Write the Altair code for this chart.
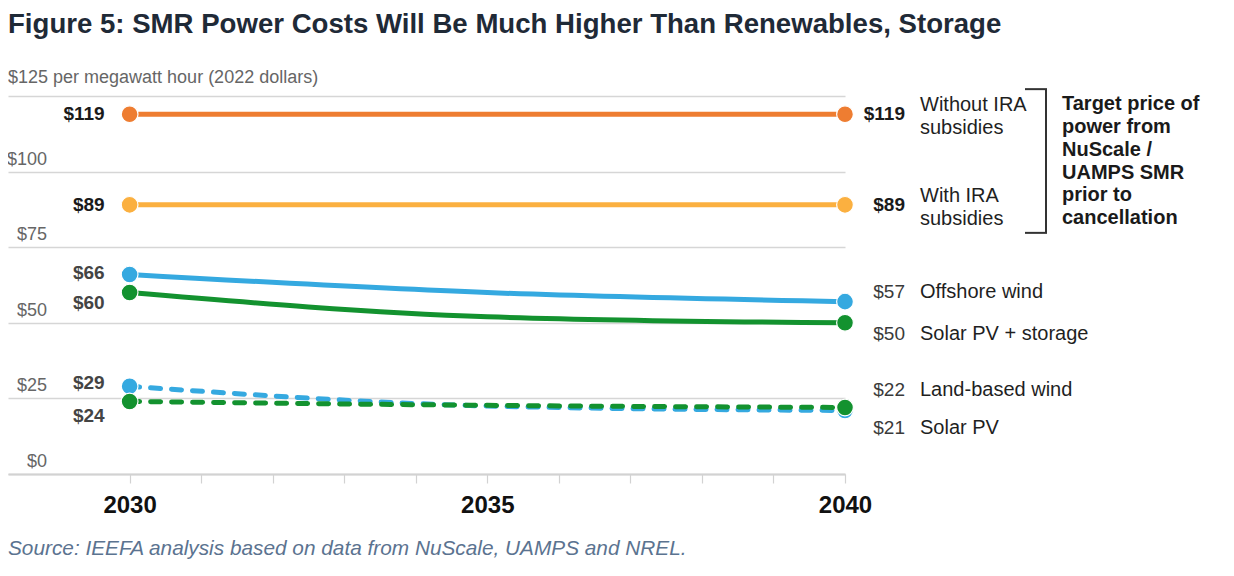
import json
import altair as alt
import pandas as pd

# ---------------- data ----------------
title_text = "Figure 5: SMR Power Costs Will Be Much Higher Than Renewables, Storage"
source_text = "Source: IEEFA analysis based on data from NuScale, UAMPS and NREL."
bracket_text = "Target price of\npower from\nNuScale /\nUAMPS SMR\nprior to\ncancellation"

years = [2030, 2035, 2040]
series_keys = ["without_ira", "with_ira", "offshore_wind", "solar_pv_storage", "solar_pv", "land_wind"]
series_names = ["Without IRA\nsubsidies", "With IRA\nsubsidies", "Offshore wind",
                "Solar PV + storage", "Solar PV", "Land-based wind"]
without_ira = [119, 119, 119]
with_ira = [89, 89, 89]
offshore_wind = [66, 60, 57]
solar_pv_storage = [60, 52, 50]
solar_pv = [29, 22.5, 21]
land_wind = [24, 22.7, 22]
series_values = [without_ira, with_ira, offshore_wind, solar_pv_storage, solar_pv, land_wind]

left_value_labels = ["$119", "$89", "$66", "$60", "$29", "$24"]
right_value_labels = ["$119", "$89", "$57", "$50", "$21", "$22"]

y_tick_values = [0, 25, 50, 75, 100, 125]
y_tick_labels = ["$0", "$25", "$50", "$75", "$100", "$125 per megawatt hour (2022 dollars)"]
x_tick_values = list(range(2030, 2041))
x_labelled_years = [2030, 2035, 2040]

bracket_year = 2040
bracket_top_value = 119
bracket_bottom_value = 89

# ---------------- style ----------------
FONT = "Liberation Sans"
styles = {
    "without_ira": dict(color="#EE7D31", dash=None, ldy=0, rdy=0, ndy=-9, lcolor="#1a1a1a", rcolor="#1a1a1a"),
    "with_ira": dict(color="#FBB040", dash=None, ldy=0, rdy=0, ndy=-9, lcolor="#1a1a1a", rcolor="#1a1a1a"),
    "offshore_wind": dict(color="#35A9E0", dash=None, ldy=-1, rdy=-10, ndy=-10, lcolor="#444444", rcolor="#3a3a3a"),
    "solar_pv_storage": dict(color="#13922F", dash=None, ldy=10, rdy=11, ndy=11, lcolor="#444444", rcolor="#3a3a3a"),
    "solar_pv": dict(color="#35A9E0", dash=[10, 11], ldy=-3, rdy=18, ndy=18, lcolor="#444444", rcolor="#3a3a3a"),
    "land_wind": dict(color="#13922F", dash=[10, 11], ldy=15, rdy=-17, ndy=-17, lcolor="#444444", rcolor="#3a3a3a"),
}

X_SCALE = alt.Scale(domain=[2028.3, 2040], nice=False, zero=False)
Y_SCALE = alt.Scale(domain=[0, 125], nice=False, zero=True)

label_expr = "indexof(" + json.dumps([str(y) for y in x_labelled_years]) + ", datum.label) >= 0 ? datum.label : ''"
x_axis = alt.Axis(values=x_tick_values, format="d", labelExpr=label_expr, grid=False,
                  domainColor="#d2d2d2", domainWidth=2, tickColor="#d2d2d2", tickWidth=1.2,
                  tickSize=9, labelFont=FONT, labelFontSize=24, labelFontWeight="bold",
                  labelColor="#111111", labelPadding=10, labelFlush=False, labelOverlap=False,
                  title=None)
y_axis = alt.Axis(values=y_tick_values, labels=False, ticks=False, domain=False, grid=True,
                  gridColor="#d6d6d6", gridWidth=1.5, title=None)


def X(field="year"):
    return alt.X(f"{field}:Q", scale=X_SCALE, axis=x_axis)


def Y(field="value"):
    return alt.Y(f"{field}:Q", scale=Y_SCALE, axis=y_axis)


layers = []

# y tick labels (drawn as text at the gridlines)
ytl = pd.DataFrame({"value": y_tick_values[:-1], "t": y_tick_labels[:-1]})
layers.append(alt.Chart(ytl).mark_text(align="right", baseline="middle", dy=-12, font=FONT,
                                       fontSize=18, color="#666666")
              .encode(x=alt.value(39), y=Y(), text="t:N"))
ytop = pd.DataFrame({"value": y_tick_values[-1:], "t": y_tick_labels[-1:]})
layers.append(alt.Chart(ytop).mark_text(align="left", baseline="middle", dy=-18, font=FONT,
                                        fontSize=18, color="#666666")
              .encode(x=alt.value(0), y=Y(), text="t:N"))

# lines
for key, vals in zip(series_keys, series_values):
    st = styles[key]
    df = pd.DataFrame({"year": years, "value": vals})
    kw = dict(color=st["color"], strokeWidth=5, strokeCap="round", interpolate="monotone")
    if st["dash"]:
        kw["strokeDash"] = st["dash"]
    layers.append(alt.Chart(df).mark_line(**kw).encode(x=X(), y=Y()))

# end dots
for key, vals in zip(series_keys, series_values):
    st = styles[key]
    df = pd.DataFrame({"year": [years[0], years[-1]], "value": [vals[0], vals[-1]]})
    layers.append(alt.Chart(df).mark_circle(size=280, color=st["color"], opacity=1,
                                            stroke="white", strokeWidth=1.2)
                  .encode(x=X(), y=Y()))

# labels
for key, name, vals, ll, rl in zip(series_keys, series_names, series_values,
                                   left_value_labels, right_value_labels):
    st = styles[key]
    dl = pd.DataFrame({"year": [years[0]], "value": [vals[0]], "t": [ll]})
    layers.append(alt.Chart(dl).mark_text(align="right", baseline="middle", dx=-25, dy=st["ldy"],
                                          font=FONT, fontSize=19, fontWeight="bold",
                                          color=st["lcolor"])
                  .encode(x=X(), y=Y(), text="t:N"))
    dr = pd.DataFrame({"year": [years[-1]], "value": [vals[-1]], "t": [rl], "n": [name]})
    big = key in ("without_ira", "with_ira")
    layers.append(alt.Chart(dr).mark_text(align="right", baseline="middle", dx=60, dy=st["rdy"],
                                          font=FONT, fontSize=19,
                                          fontWeight="bold" if big else "normal",
                                          color=st["rcolor"])
                  .encode(x=X(), y=Y(), text="t:N"))
    layers.append(alt.Chart(dr).mark_text(align="left", baseline="middle", dx=75, dy=st["ndy"],
                                          font=FONT, fontSize=20, lineBreak="\n", lineHeight=23,
                                          color="#1f1f1f")
                  .encode(x=X(), y=Y(), text="n:N"))

# bracket
bdf = pd.DataFrame({"year": [bracket_year], "year2": [bracket_year],
                    "value": [bracket_top_value], "value2": [bracket_bottom_value],
                    "t": [bracket_text]})
layers.append(alt.Chart(bdf).mark_rule(color="#333333", strokeWidth=2, xOffset=201,
                                       x2Offset=201, yOffset=-25, y2Offset=28)
              .encode(x=X(), x2="year2:Q", y=Y(), y2="value2:Q"))
layers.append(alt.Chart(bdf).mark_rule(color="#333333", strokeWidth=2, xOffset=180,
                                       x2Offset=202, yOffset=-25)
              .encode(x=X(), x2="year2:Q", y=Y()))
layers.append(alt.Chart(bdf).mark_rule(color="#333333", strokeWidth=2, xOffset=180,
                                       x2Offset=202, yOffset=28)
              .encode(x=X(), x2="year2:Q", y=Y("value2")))
layers.append(alt.Chart(bdf).mark_text(align="left", baseline="middle", dx=217, dy=-10,
                                       font=FONT, fontSize=20, fontWeight="bold",
                                       lineBreak="\n", lineHeight=22.8, color="#1a1a1a")
              .encode(x=X(), y=Y(), text="t:N"))

# title & source
tdf = pd.DataFrame({"t": [title_text]})
layers.append(alt.Chart(tdf).mark_text(align="left", baseline="middle", font=FONT, fontSize=27.6,
                                       fontWeight="bold", color="#1f2a37")
              .encode(x=alt.value(0), y=alt.value(-71), text="t:N"))
sdf = pd.DataFrame({"t": [source_text]})
layers.append(alt.Chart(sdf).mark_text(align="left", baseline="middle", font=FONT, fontSize=20.8,
                                       fontStyle="italic", color="#5b7390")
              .encode(x=alt.value(0), y=alt.value(453), text="t:N"))

chart = alt.layer(*layers).properties(
    width=837, height=378,
    padding={"left": 0, "top": 88, "right": 381, "bottom": 94},
    autosize=alt.AutoSizeParams(type="none"),
    background="white",
).configure_view(stroke=None)

chart.save("out.html", embed_options={"renderer": "svg", "actions": False})
